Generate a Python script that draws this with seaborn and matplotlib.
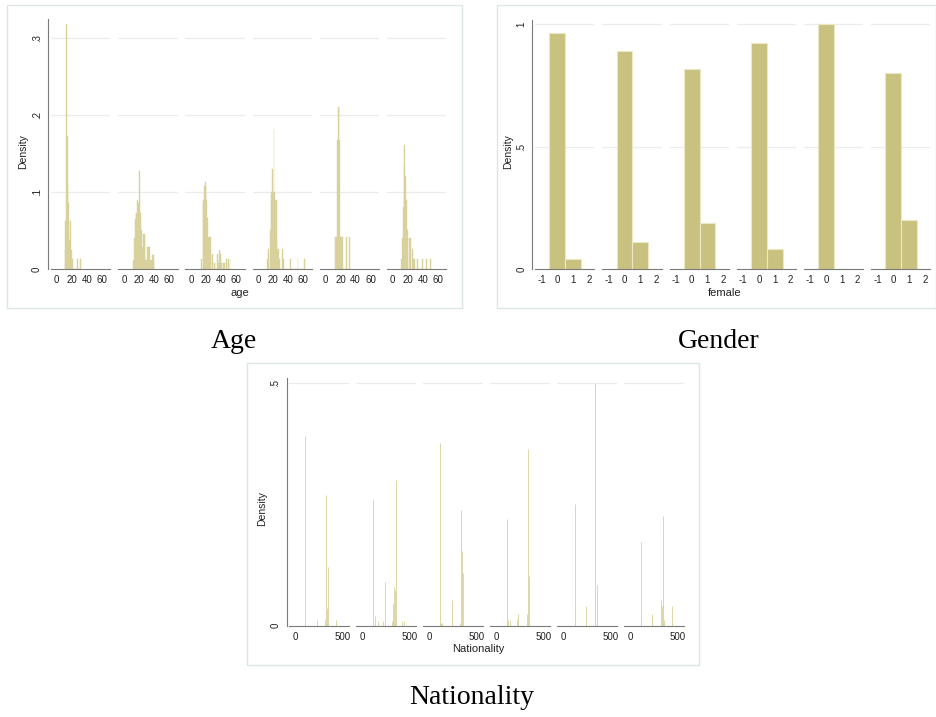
import numpy as np
import pandas as pd
import matplotlib
matplotlib.use("Agg")
import matplotlib.pyplot as plt
from matplotlib.patches import Rectangle
import seaborn as sns

# ---------------- data ----------------
AGE_VALUES = [
    [11, 12, 13, 14, 15, 16, 17, 18, 19, 20, 21, 28, 32],
    [13, 14, 15, 16, 17, 18, 19, 20, 21, 22, 23, 24, 25, 26, 27, 28, 29, 30, 31, 32, 33, 34, 35, 36, 37, 38, 39, 40],
    [14, 16, 17, 18, 19, 20, 21, 22, 23, 24, 25, 26, 28, 29, 31, 32, 35, 37, 38, 39, 41, 43, 45, 47, 48, 50, 52],
    [12, 14, 16, 17, 18, 19, 20, 21, 22, 23, 24, 25, 26, 27, 28, 32, 34, 43, 53, 62],
    [13, 15, 16, 17, 18, 19, 20, 21, 23, 28, 32],
    [12, 13, 14, 15, 16, 17, 18, 19, 20, 22, 24, 26, 28, 29, 33, 40, 45, 50],
]
AGE_DENSITY = [
    [0.025, 0.062, 0.318, 0.172, 0.110, 0.085, 0.038, 0.062, 0.025, 0.025, 0.013, 0.013, 0.013],
    [0.012, 0.040, 0.065, 0.073, 0.073, 0.090, 0.085, 0.072, 0.127, 0.072, 0.050, 0.028, 0.028, 0.045,
     0.045, 0.037, 0.012, 0.012, 0.028, 0.012, 0.028, 0.028, 0.012, 0.012, 0.012, 0.018, 0.018, 0.012],
    [0.013, 0.085, 0.090, 0.107, 0.113, 0.107, 0.090, 0.066, 0.042, 0.042, 0.042, 0.042, 0.020, 0.020,
     0.008, 0.008, 0.020, 0.008, 0.025, 0.020, 0.008, 0.008, 0.008, 0.013, 0.008, 0.013, 0.013],
    [0.013, 0.026, 0.050, 0.090, 0.100, 0.130, 0.100, 0.182, 0.100, 0.090, 0.090, 0.040, 0.026, 0.026,
     0.013, 0.026, 0.013, 0.013, 0.013, 0.013],
    [0.042, 0.042, 0.167, 0.210, 0.210, 0.167, 0.042, 0.042, 0.042, 0.042, 0.042],
    [0.013, 0.040, 0.080, 0.135, 0.161, 0.120, 0.090, 0.050, 0.050, 0.040, 0.040, 0.026, 0.013, 0.013,
     0.013, 0.013, 0.013, 0.013],
]

FEMALE_VALUES = [[0, 1], [0, 1], [0, 1], [0, 1], [0, 1], [0, 1]]
FEMALE_DENSITY = [
    [0.963, 0.040],
    [0.891, 0.109],
    [0.816, 0.187],
    [0.922, 0.080],
    [1.000, 0.000],
    [0.801, 0.200],
]

NAT_VALUES = [
    [104, 225, 314, 329, 339, 350, 429],
    [114, 129, 161, 218, 236, 314, 329, 336, 346, 354, 361, 421, 439],
    [107, 125, 136, 239, 325, 332, 346, 354],
    [111, 125, 139, 214, 229, 321, 332, 343, 350],
    [118, 121, 236, 336, 354, 357],
    [107, 111, 232, 325, 332, 346, 350, 357, 439],
]
NAT_DENSITY = [
    [0.391, 0.012, 0.012, 0.270, 0.037, 0.122, 0.012],
    [0.261, 0.019, 0.010, 0.010, 0.091, 0.010, 0.044, 0.080, 0.074, 0.300, 0.019, 0.010, 0.010],
    [0.376, 0.005, 0.005, 0.053, 0.005, 0.239, 0.155, 0.108],
    [0.220, 0.012, 0.012, 0.012, 0.025, 0.025, 0.364, 0.025, 0.102],
    [0.250, 0.040, 0.040, 0.500, 0.040, 0.083],
    [0.012, 0.173, 0.025, 0.053, 0.040, 0.200, 0.227, 0.012, 0.040],
]

AGE_TICKS = [0, 20, 40, 60]
AGE_YTICKS = [0, 0.1, 0.2, 0.3]
AGE_YLABELS = ["0", ".1", ".2", ".3"]
FEMALE_TICKS = [-1, 0, 1, 2]
FEMALE_YTICKS = [0, 0.5, 1]
FEMALE_YLABELS = ["0", ".5", "1"]
NAT_TICKS = [0, 500]
NAT_YTICKS = [0, 0.5]
NAT_YLABELS = ["0", ".5"]

# ---------------- style ----------------
sns.set_theme(style="white")
plt.rcParams["font.family"] = ["Liberation Sans", "DejaVu Sans"]

W, H = 937, 717
fig = plt.figure(figsize=(W / 100, H / 100), dpi=100)
fig.patch.set_facecolor("white")

AX_COL = "#7a7a7a"
GRID_COL = "#e8eeee"
TXT_COL = "#222222"


def px_axes(left, top, right, bottom):
    return fig.add_axes([left / W, 1 - bottom / H, (right - left) / W, (bottom - top) / H])


def box(left, top, right, bottom):
    fig.patches.append(Rectangle((left / W, 1 - bottom / H), (right - left) / W, (bottom - top) / H,
                                 transform=fig.transFigure, fill=False,
                                 edgecolor="#dde6e6", linewidth=1.0))


def ftext(x, y, s, **kw):
    fig.text(x / W, 1 - y / H, s, ha="center", va="center", **kw)


def panel(values, dens, zero0, step, pxunit, xlim, top, bottom, ylim,
          xticks, yticks, ylabels, hist_kw):
    for i in range(6):
        zero = zero0 + step * i
        left = zero + xlim[0] * pxunit
        right = zero + xlim[1] * pxunit
        ax = px_axes(left, top, right, bottom)
        df = pd.DataFrame({"v": values[i], "d": dens[i]})
        sns.histplot(data=df, x="v", weights="d", discrete=True, ax=ax, **hist_kw)
        ax.set_xlim(*xlim)
        ax.set_ylim(*ylim)
        ax.set_facecolor("none")
        ax.set_xticks(xticks)
        ax.set_xticklabels([str(t) for t in xticks], fontsize=7, color=TXT_COL)
        ax.set_yticks(yticks)
        for yv in yticks[1:]:
            ax.axhline(yv, color=GRID_COL, linewidth=0.9, zorder=0)
        ax.grid(False)
        ax.set_xlabel("")
        ax.set_ylabel("")
        for s in ["top", "right"]:
            ax.spines[s].set_visible(False)
        ax.spines["bottom"].set_color(AX_COL)
        ax.spines["bottom"].set_linewidth(0.8)
        ax.tick_params(axis="x", length=3, width=0.6, color=AX_COL, pad=1.5)
        if i == 0:
            ax.spines["left"].set_color(AX_COL)
            ax.spines["left"].set_linewidth(0.8)
            ax.spines["left"].set_position(("outward", 2))
            ax.set_yticklabels(ylabels, fontsize=7, color=TXT_COL, rotation=90, va="center")
            ax.tick_params(axis="y", length=3, width=0.6, color=AX_COL, pad=1.5)
        else:
            ax.spines["left"].set_visible(False)
            ax.tick_params(axis="y", length=0, labelleft=False)


# ---------------- Age panel ----------------
box(7, 5, 462, 308)
panel(AGE_VALUES, AGE_DENSITY, zero0=56.7, step=67.2, pxunit=0.75, xlim=(-7.5, 71.5),
      top=19, bottom=269, ylim=(0, 0.324), xticks=AGE_TICKS, yticks=AGE_YTICKS,
      ylabels=AGE_YLABELS,
      hist_kw=dict(color="#d8d19c", edgecolor="#d8d19c", linewidth=0.3, alpha=1.0))
ftext(23, 152, "Density", rotation=90, fontsize=7.5, color=TXT_COL)
ftext(240, 293, "age", fontsize=8, color=TXT_COL)
ftext(234, 341, "Age", fontsize=20, family=["Liberation Serif", "DejaVu Serif"], color="black")

# ---------------- Gender panel ----------------
box(497, 5, 936, 308)
panel(FEMALE_VALUES, FEMALE_DENSITY, zero0=557.3, step=67.2, pxunit=15.78, xlim=(-1.4, 2.35),
      top=20, bottom=269, ylim=(0, 1.0176), xticks=FEMALE_TICKS, yticks=FEMALE_YTICKS,
      ylabels=FEMALE_YLABELS,
      hist_kw=dict(color="#c9c17f", edgecolor="#ece8c6", linewidth=0.8, alpha=1.0))
ftext(508, 152, "Density", rotation=90, fontsize=7.5, color=TXT_COL)
ftext(725, 293, "female", fontsize=8, color=TXT_COL)
ftext(719, 341, "Gender", fontsize=20, family=["Liberation Serif", "DejaVu Serif"], color="black")

# ---------------- Nationality panel ----------------
box(247, 363, 699, 665)
panel(NAT_VALUES, NAT_DENSITY, zero0=295.7, step=67.0, pxunit=0.0933, xlim=(-67, 572),
      top=378.3, bottom=625.7, ylim=(0, 0.51), xticks=NAT_TICKS, yticks=NAT_YTICKS,
      ylabels=NAT_YLABELS,
      hist_kw=dict(color="#dcd6a8", edgecolor="#dcd6a8", linewidth=0.7, alpha=0.85))
ftext(262, 509, "Density", rotation=90, fontsize=7.5, color=TXT_COL)
ftext(478, 649, "Nationality", fontsize=8, color=TXT_COL)
ftext(472, 697, "Nationality", fontsize=20, family=["Liberation Serif", "DejaVu Serif"], color="black")

fig.savefig("out.png", dpi=100, facecolor="white")
